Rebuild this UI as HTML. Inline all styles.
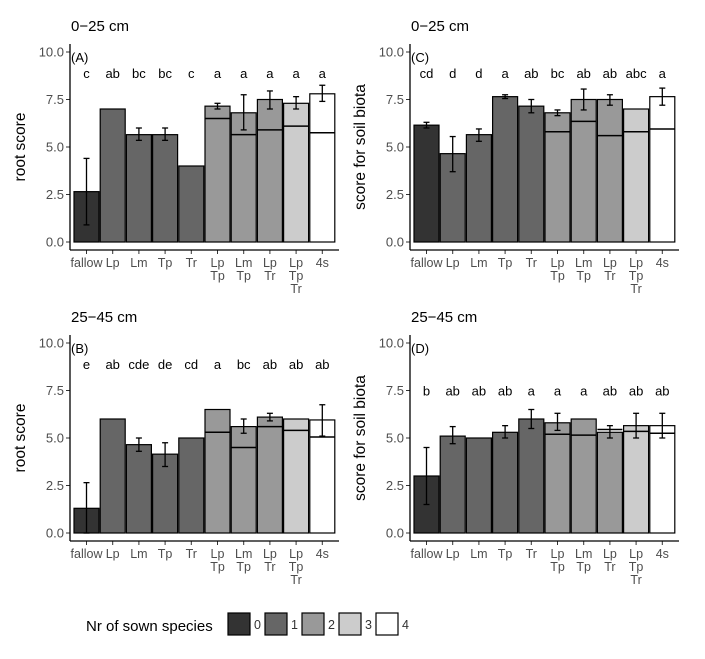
<!DOCTYPE html>
<html><head><meta charset="utf-8"><style>
body{margin:0;background:#fff}
svg text{font-family:"Liberation Sans",sans-serif}
</style></head><body>
<svg id="c" width="705" height="654" xmlns="http://www.w3.org/2000/svg"></svg>
<script>
const categories=["fallow","Lp","Lm","Tp","Tr","Lp\nTp","Lm\nTp","Lp\nTr","Lp\nTp\nTr","4s"];
const groupN=[0,1,1,1,1,2,2,2,3,4];
const yTicks=["0.0","2.5","5.0","7.5","10.0"];
const fills=["#333333","#666666","#999999","#cccccc","#ffffff"];
const aTotal=[2.65,7.0,5.65,5.65,4.0,7.15,6.8,7.5,7.3,7.8];
const aInner=[null,null,null,null,null,6.5,5.65,5.9,6.1,5.75];
const aLo=[0.9,null,5.35,5.35,null,7.0,5.9,7.0,7.0,7.4];
const aHi=[4.4,null,6.0,6.0,null,7.3,7.75,7.95,7.65,8.25];
const aLetters=["c","ab","bc","bc","c","a","a","a","a","a"];
const bTotal=[1.3,6.0,4.65,4.15,5.0,6.5,5.6,6.1,6.0,5.95];
const bInner=[null,null,null,null,null,5.3,4.5,5.6,5.4,5.05];
const bLo=[0.0,null,4.3,3.5,null,null,5.25,5.9,null,5.1];
const bHi=[2.65,null,5.0,4.75,null,null,6.0,6.3,null,6.75];
const bLetters=["e","ab","cde","de","cd","a","bc","ab","ab","ab"];
const cTotal=[6.15,4.65,5.65,7.65,7.15,6.8,7.5,7.5,7.0,7.65];
const cInner=[null,null,null,null,null,5.8,6.35,5.6,5.8,5.95];
const cLo=[6.0,3.7,5.3,7.55,6.8,6.65,6.95,7.2,null,7.2];
const cHi=[6.3,5.55,5.95,7.75,7.5,6.95,8.05,7.75,null,8.1];
const cLetters=["cd","d","d","a","ab","bc","ab","ab","abc","a"];
const dTotal=[3.0,5.1,5.0,5.3,6.0,5.8,6.0,5.3,5.65,5.65];
const dInner=[null,null,null,null,null,5.2,5.15,5.45,5.35,5.25];
const dLo=[1.5,4.7,null,5.0,5.5,5.4,null,5.0,5.0,5.0];
const dHi=[4.5,5.6,null,5.65,6.5,6.3,null,5.65,6.3,6.3];
const dLetters=["b","ab","ab","ab","a","a","a","ab","ab","ab"];

const svg=document.getElementById('c');
const NS="http://www.w3.org/2000/svg";
function el(t,a,p){const e=document.createElementNS(NS,t);for(const k in a)e.setAttribute(k,a[k]);(p||svg).appendChild(e);return e;}

function panel(ox,oy,title,tag,ylab,total,inner,lo,hi,letters,letterY,name){
  const g=el('g',{});
  
  
  const y=v=>oy+242-v*19;
  const xc=i=>ox+86.5+i*26.2;
  let t=el('text',{x:ox+71,y:oy+31,'font-size':15},g);t.textContent=title;
  
  t=el('text',{x:ox+25,y:y(5),'font-size':15.5,'text-anchor':'middle',transform:`rotate(-90 ${ox+25} ${y(5)})`},g);t.textContent=ylab;
  
  yTicks.forEach((s,i)=>{const v=i*2.5;
    const tt=el('text',{x:ox+64,y:y(v)+4.5,'font-size':13,'text-anchor':'end',fill:'#4d4d4d'},g);tt.textContent=s;
    
    el('line',{x1:ox+66,x2:ox+70,y1:y(v),y2:y(v),stroke:'#333'},g);});
  categories.forEach((c,i)=>{
    const x=xc(i);
    const r=el('rect',{x:x-12.5,y:y(total[i]),width:25,height:y(0)-y(total[i]),fill:fills[groupN[i]],stroke:'#000','stroke-width':1.2},g);
    
    if(inner[i]!=null) el('line',{x1:x-12.5,x2:x+12.5,y1:y(inner[i]),y2:y(inner[i]),stroke:'#000','stroke-width':1.5},g);
    if(lo[i]!=null){
      el('line',{x1:x,x2:x,y1:y(lo[i]),y2:y(hi[i]),stroke:'#000','stroke-width':1.3},g);
      el('line',{x1:x-3,x2:x+3,y1:y(lo[i]),y2:y(lo[i]),stroke:'#000','stroke-width':1.3},g);
      el('line',{x1:x-3,x2:x+3,y1:y(hi[i]),y2:y(hi[i]),stroke:'#000','stroke-width':1.3},g);}
    const lt=el('text',{x:x,y:y(letterY)+5,'font-size':13,'text-anchor':'middle'},g);lt.textContent=letters[i];
    
    el('line',{x1:x,x2:x,y1:oy+250,y2:oy+254,stroke:'#333'},g);
    c.split('\n').forEach((p,j)=>{const xt=el('text',{x:x,y:oy+267+j*13,'font-size':12.5,'text-anchor':'middle',fill:'#4d4d4d'},g);xt.textContent=p;
      });
  });
  el('line',{x1:ox+70,x2:ox+70,y1:oy+44,y2:oy+250,stroke:'#000','stroke-width':1.3},g);
  el('line',{x1:ox+70,x2:ox+339,y1:oy+250,y2:oy+250,stroke:'#000','stroke-width':1.3},g);
  t=el('text',{x:ox+71,y:oy+62,'font-size':13},g);t.textContent=tag;
  
}
panel(0,0,"0−25 cm","(A)","root score",aTotal,aInner,aLo,aHi,aLetters,8.9,'panel-a');
panel(0,291,"25−45 cm","(B)","root score",bTotal,bInner,bLo,bHi,bLetters,8.9,'panel-b');
panel(340,0,"0−25 cm","(C)","score for soil biota",cTotal,cInner,cLo,cHi,cLetters,8.9,'panel-c');
panel(340,291,"25−45 cm","(D)","score for soil biota",dTotal,dInner,dLo,dHi,dLetters,7.5,'panel-d');

const lg=el('g',{});


let lt=el('text',{x:86,y:631,'font-size':15},lg);lt.textContent="Nr of sown species";
fills.forEach((f,i)=>{
  const x=228+i*37;
  const r=el('rect',{x:x,y:613,width:22,height:22,fill:f,stroke:'#000','stroke-width':1.2},lg);
  
  const t=el('text',{x:x+26,y:629,'font-size':12.5,fill:'#333'},lg);t.textContent=String(i);
  
});
</script>
</body></html>
